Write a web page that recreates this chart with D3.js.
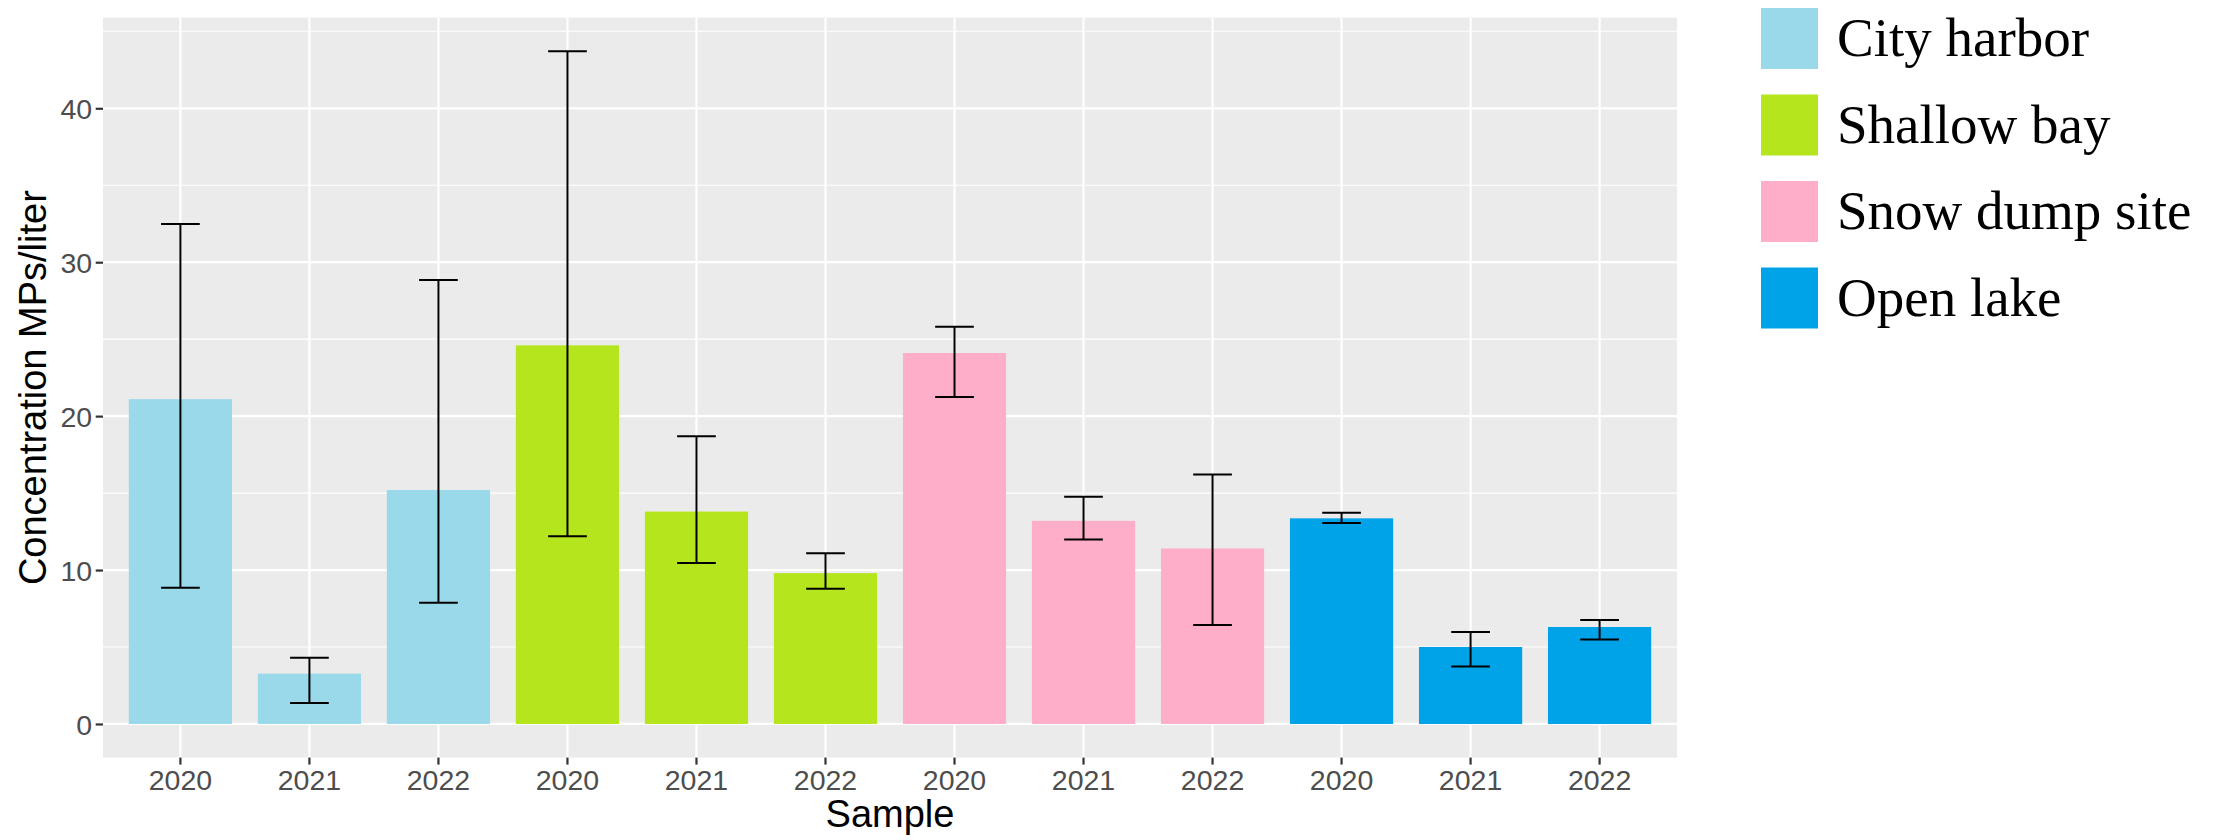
<!DOCTYPE html>
<html>
<head>
<meta charset="utf-8">
<script src="https://cdn.jsdelivr.net/npm/d3@7"></script>
<style>
  html, body { margin: 0; padding: 0; background: #fff; }
</style>
</head>
<body>
<script>
// chart values
const sites = ["City harbor", "Shallow bay", "Snow dump site", "Open lake"];
const years = ["2020", "2021", "2022"];
const siteColors = ["#99D9EA", "#B5E61D", "#FFAEC9", "#00A2E8"];
const means = [21.1, 3.27, 15.2, 24.6, 13.8, 9.8, 24.1, 13.2, 11.4, 13.36, 5.0, 6.3];
const lower = [8.85, 1.36, 7.87, 12.2, 10.45, 8.79, 21.25, 11.98, 6.43, 13.06, 3.74, 5.48];
const upper = [32.48, 4.31, 28.85, 43.7, 18.7, 11.09, 25.8, 14.77, 16.2, 13.73, 5.98, 6.76];
const yTicks = [0, 10, 20, 30, 40];
const yMinor = [5, 15, 25, 35, 45];

const W = 2220, H = 840;
const panel = {left: 103, right: 1677, top: 17.7, bottom: 757.6};

const rows = means.map((m, i) => ({
  key: i,
  site: Math.floor(i / years.length),
  year: years[i % years.length],
  mean: m, lo: lower[i], hi: upper[i]
}));

const svg = d3.select("body").append("svg")
    .attr("width", W).attr("height", H)
    .style("font-family", "'Liberation Sans', Arial, Helvetica, sans-serif");

// ggplot style: 5% expansion on continuous, 0.6 units on discrete
const dmax = d3.max(upper);
const y = d3.scaleLinear()
    .domain([-dmax * 0.05, dmax * 1.05])
    .range([panel.bottom, panel.top]);

const x = d3.scaleBand()
    .domain(rows.map(d => d.key))
    .range([panel.left, panel.right])
    .paddingInner(0.2)
    .paddingOuter(0.2);

const cx = k => x(k) + x.bandwidth() / 2;
const step = x.step();

svg.append("rect")
    .attr("x", panel.left).attr("y", panel.top)
    .attr("width", panel.right - panel.left)
    .attr("height", panel.bottom - panel.top)
    .attr("fill", "#EBEBEB");

const grid = svg.append("g").attr("stroke", "#fff");
grid.selectAll("line.minor")
    .data(yMinor.filter(v => y(v) >= panel.top))
  .join("line")
    .attr("class", "minor")
    .attr("x1", panel.left).attr("x2", panel.right)
    .attr("y1", d => y(d)).attr("y2", d => y(d))
    .attr("stroke-width", 1.1);
grid.selectAll("line.majory")
    .data(yTicks)
  .join("line")
    .attr("class", "majory")
    .attr("x1", panel.left).attr("x2", panel.right)
    .attr("y1", d => y(d)).attr("y2", d => y(d))
    .attr("stroke-width", 2.2);
grid.selectAll("line.majorx")
    .data(rows)
  .join("line")
    .attr("class", "majorx")
    .attr("x1", d => cx(d.key)).attr("x2", d => cx(d.key))
    .attr("y1", panel.top).attr("y2", panel.bottom)
    .attr("stroke-width", 2.2);

// bars
svg.append("g")
  .selectAll("rect")
  .data(rows)
  .join("rect")
    .attr("x", d => x(d.key))
    .attr("width", x.bandwidth())
    .attr("y", d => y(d.mean))
    .attr("height", d => y(0) - y(d.mean))
    .attr("fill", d => siteColors[d.site]);

// error bars
const capHalf = step * 0.15;
const eb = svg.append("g")
    .attr("stroke", "#000")
    .attr("stroke-width", 2)
  .selectAll("g")
  .data(rows)
  .join("g");
eb.append("line")
    .attr("x1", d => cx(d.key)).attr("x2", d => cx(d.key))
    .attr("y1", d => y(d.hi)).attr("y2", d => y(d.lo));
eb.append("line")
    .attr("x1", d => cx(d.key) - capHalf).attr("x2", d => cx(d.key) + capHalf)
    .attr("y1", d => y(d.hi)).attr("y2", d => y(d.hi));
eb.append("line")
    .attr("x1", d => cx(d.key) - capHalf).attr("x2", d => cx(d.key) + capHalf)
    .attr("y1", d => y(d.lo)).attr("y2", d => y(d.lo));

// axes
const yAxis = svg.append("g")
    .attr("transform", `translate(${panel.left},0)`)
    .call(d3.axisLeft(y).tickValues(yTicks).tickSize(7.3).tickPadding(3.5));
const xAxis = svg.append("g")
    .attr("transform", `translate(0,${panel.bottom})`)
    .call(d3.axisBottom(x).tickFormat(k => rows[k].year).tickSize(7).tickPadding(5));

for (const ax of [yAxis, xAxis]) {
  ax.select(".domain").remove();
  ax.selectAll(".tick line").attr("stroke", "#333333").attr("stroke-width", 2.2);
  ax.selectAll(".tick text")
      .attr("fill", "#4D4D4D")
      .style("font-size", "28.5px")
      .style("font-family", "'Liberation Sans', Arial, sans-serif");
}
yAxis.selectAll(".tick text").attr("dy", "0.36em");

svg.append("text")
    .attr("x", (panel.left + panel.right) / 2)
    .attr("y", 827)
    .attr("text-anchor", "middle")
    .style("font-size", "38px")
    .text("Sample");

svg.append("text")
    .attr("transform", `translate(46,${(panel.top + panel.bottom) / 2}) rotate(-90)`)
    .attr("text-anchor", "middle")
    .style("font-size", "38px")
    .text("Concentration MPs/liter");

// legend
const legend = svg.append("g")
    .attr("transform", "translate(1761,8)")
  .selectAll("g")
  .data(sites)
  .join("g")
    .attr("transform", (d, i) => `translate(0,${i * 86.5})`);
legend.append("rect")
    .attr("width", 57).attr("height", 61)
    .attr("fill", (d, i) => siteColors[i]);
legend.append("text")
    .attr("x", 76)
    .attr("y", 48)
    .style("font-family", "'Liberation Serif', 'DejaVu Serif', serif")
    .style("font-size", "55px")
    .attr("fill", "#000")
    .text(d => d);
</script>
</body>
</html>
